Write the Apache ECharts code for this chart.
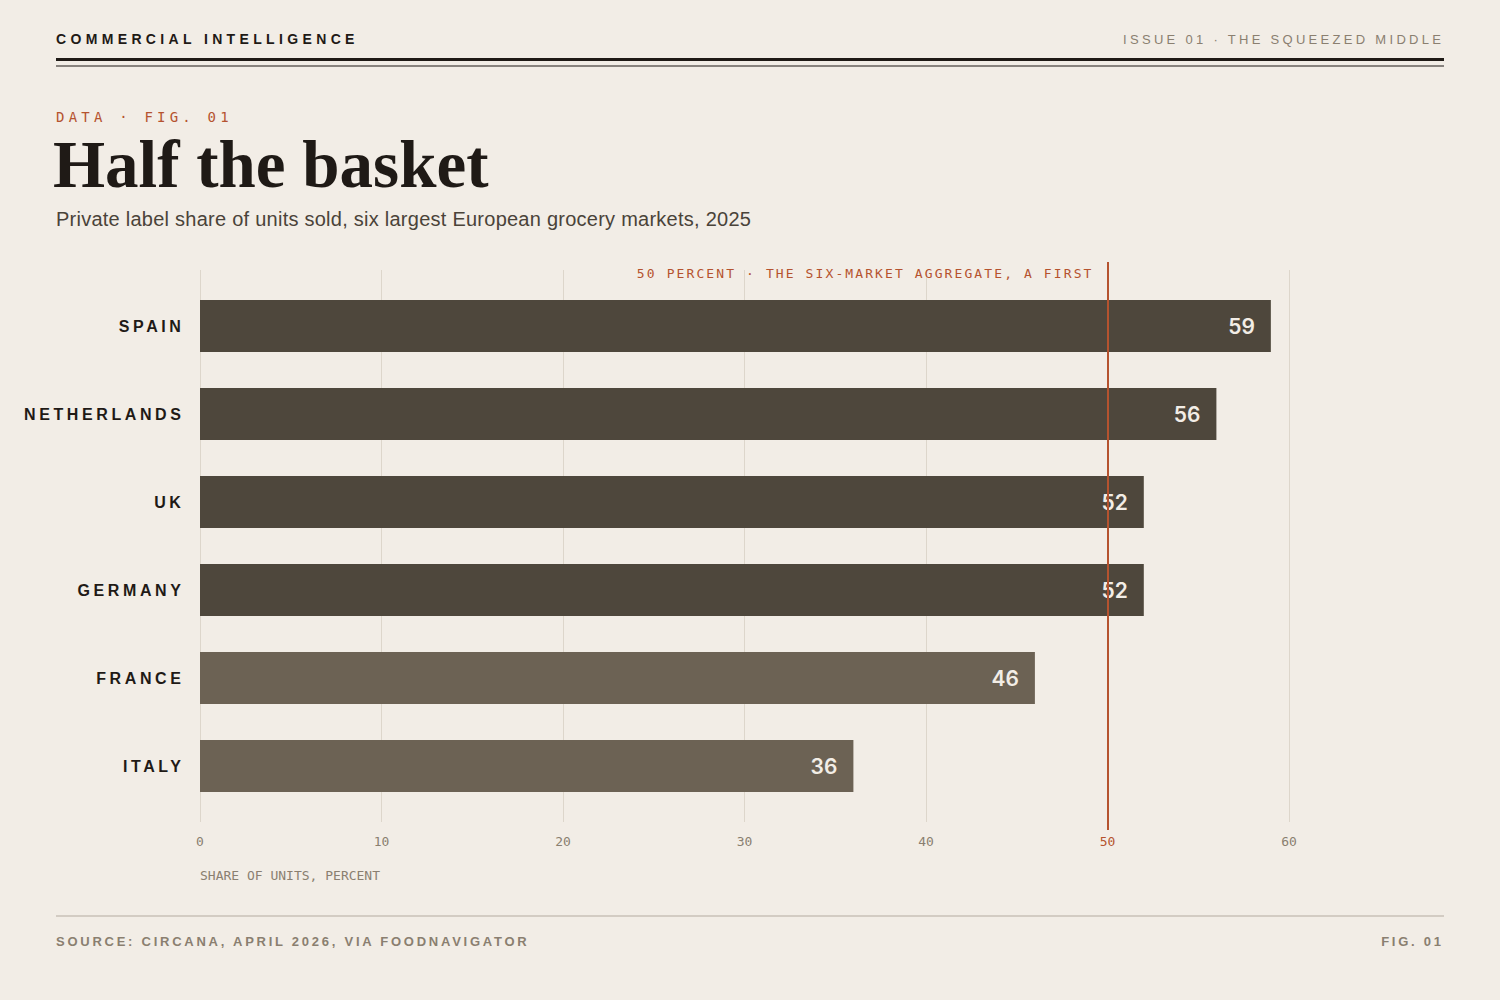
<!DOCTYPE html>
<html>
<head>
<meta charset="utf-8">
<title>Half the basket</title>
<script src="https://cdn.jsdelivr.net/npm/echarts@6/dist/echarts.min.js"></script>
<style>
  html, body { margin: 0; padding: 0; background: #f2ede6; }
  #chart { width: 1500px; height: 1000px; }
</style>
</head>
<body>
<div id="chart"></div>
<script>
// data
var categories = ['SPAIN', 'NETHERLANDS', 'UK', 'GERMANY', 'FRANCE', 'ITALY'];
var shares = [59, 56, 52, 52, 46, 36];
var aggregate = 50;          // six-market aggregate, percent
var axisMin = 0, axisMax = 60, axisStep = 10;

var annotation = '50 PERCENT \u00b7 THE SIX-MARKET AGGREGATE, A FIRST';
var subtitle = 'Private label share of units sold, six largest European grocery markets, 2025';

// colours
var ink = '#1f1a16', muted = '#8a7f70', rust = '#b5532f';
var darkBar = '#4e473c', lightBar = '#6c6254';

var mono = '"DejaVu Sans Mono", monospace';
var sans = '"Liberation Sans", Arial, sans-serif';

// letter spacing per text (applied to svg text after render)
var spacing = {
    'COMMERCIAL INTELLIGENCE': 4.35,
    'ISSUE 01 \u00b7 THE SQUEEZED MIDDLE': 3.3,
    'DATA \u00b7 FIG. 01': 4.2,
    'SOURCE: CIRCANA, APRIL 2026, VIA FOODNAVIGATOR': 2.75,
    'FIG. 01': 2.75
};
spacing[annotation] = 2.1;
spacing[subtitle] = 0.25;
categories.forEach(function (c) { spacing[c] = 3.6; });

var chart = echarts.init(document.getElementById('chart'), null, { renderer: 'svg' });

var gridLeft = 200, gridRight = 211;

var option = {
    backgroundColor: '#f2ede6',
    animation: false,
    grid: [
        // bars
        { left: gridLeft, right: gridRight, top: 282, bottom: 190 },
        // split lines + tick labels
        { left: gridLeft, right: gridRight, top: 270, bottom: 178 },
        // aggregate rule
        { left: gridLeft, right: gridRight, top: 262, bottom: 170 }
    ],
    xAxis: [
        { gridIndex: 0, type: 'value', min: axisMin, max: axisMax, show: false },
        {
            gridIndex: 1, type: 'value', min: axisMin, max: axisMax, interval: axisStep,
            axisLine: { show: false },
            axisTick: { show: false },
            splitLine: { show: true, lineStyle: { color: '#ddd6cb', width: 1 } },
            axisLabel: {
                margin: 13,
                fontFamily: mono,
                fontSize: 13,
                color: function (v) { return +v === aggregate ? rust : muted; }
            }
        },
        { gridIndex: 2, type: 'value', min: axisMin, max: axisMax, show: false }
    ],
    yAxis: [
        {
            gridIndex: 0, type: 'category', inverse: true, data: categories,
            axisLine: { show: false },
            axisTick: { show: false },
            splitLine: { show: false },
            axisLabel: {
                margin: 15.5,
                color: ink,
                fontFamily: sans,
                fontWeight: 'bold',
                fontSize: 16
            }
        },
        { gridIndex: 1, type: 'value', min: 0, max: 1, show: false },
        { gridIndex: 2, type: 'value', min: 0, max: 1, show: false }
    ],
    series: [
        {
            type: 'bar',
            xAxisIndex: 0, yAxisIndex: 0,
            barWidth: 52,
            data: shares.map(function (v) {
                return { value: v, itemStyle: { color: v >= aggregate ? darkBar : lightBar } };
            }),
            label: {
                show: true,
                position: 'insideRight',
                distance: 16,
                color: '#f2ede6',
                fontFamily: 'Inter, sans-serif',
                fontWeight: 600,
                fontSize: 21
            },
            silent: true
        },
        {
            type: 'line',
            xAxisIndex: 2, yAxisIndex: 2,
            data: [[aggregate, 0.5]],
            showSymbol: false,
            lineStyle: { opacity: 0 },
            clip: false,
            z: 10,
            silent: true,
            markLine: {
                silent: true,
                symbol: ['none', 'none'],
                label: { show: false },
                lineStyle: { color: rust, width: 2, type: 'solid' },
                data: [[{ coord: [aggregate, 0] }, { coord: [aggregate, 1] }]]
            }
        }
    ]
};

chart.setOption(option);

// annotation sits just left of the aggregate rule
var ruleX = chart.convertToPixel({ xAxisIndex: 2 }, aggregate);

function txt(text, x, y, font, fill, align) {
    return {
        type: 'text', silent: true, z: 20,
        x: x, y: y,
        style: {
            text: text, font: font, fill: fill,
            align: align || 'left', verticalAlign: 'middle',
            textAlign: align || 'left', textVerticalAlign: 'middle'
        }
    };
}

chart.setOption({
    graphic: [
        txt('COMMERCIAL INTELLIGENCE', 56, 39, 'bold 14px ' + sans, ink),
        txt('ISSUE 01 \u00b7 THE SQUEEZED MIDDLE', 1441 + 3.3, 39, '13px ' + sans, muted, 'right'),
        { type: 'rect', silent: true, shape: { x: 56, y: 58, width: 1388, height: 3 }, style: { fill: ink } },
        { type: 'rect', silent: true, shape: { x: 56, y: 65.5, width: 1388, height: 1 }, style: { fill: ink } },
        txt('DATA \u00b7 FIG. 01', 56, 117, '14px ' + mono, rust),
        txt('Half the basket', 53, 164, 'bold 67px "Liberation Serif", "DejaVu Serif", serif', ink),
        txt(subtitle, 56, 219, '20px ' + sans, '#4a4339'),
        txt(annotation, ruleX - 16 + 2, 273, '13px ' + mono, rust, 'right'),
        txt('SHARE OF UNITS, PERCENT', gridLeft, 875, '13px ' + mono, muted),
        { type: 'rect', silent: true, shape: { x: 56, y: 915.5, width: 1388, height: 1 }, style: { fill: '#b3aba0' } },
        txt('SOURCE: CIRCANA, APRIL 2026, VIA FOODNAVIGATOR', 56, 941, 'bold 13px ' + sans, muted),
        txt('FIG. 01', 1441 + 2.75, 941, 'bold 13px ' + sans, muted, 'right')
    ]
});

function applySpacing() {
    document.querySelectorAll('#chart text').forEach(function (t) {
        var s = spacing[t.textContent];
        if (s != null) t.style.letterSpacing = s + 'px';
    });
}
chart.on('finished', applySpacing);
applySpacing();
setTimeout(applySpacing, 50);
</script>
</body>
</html>
